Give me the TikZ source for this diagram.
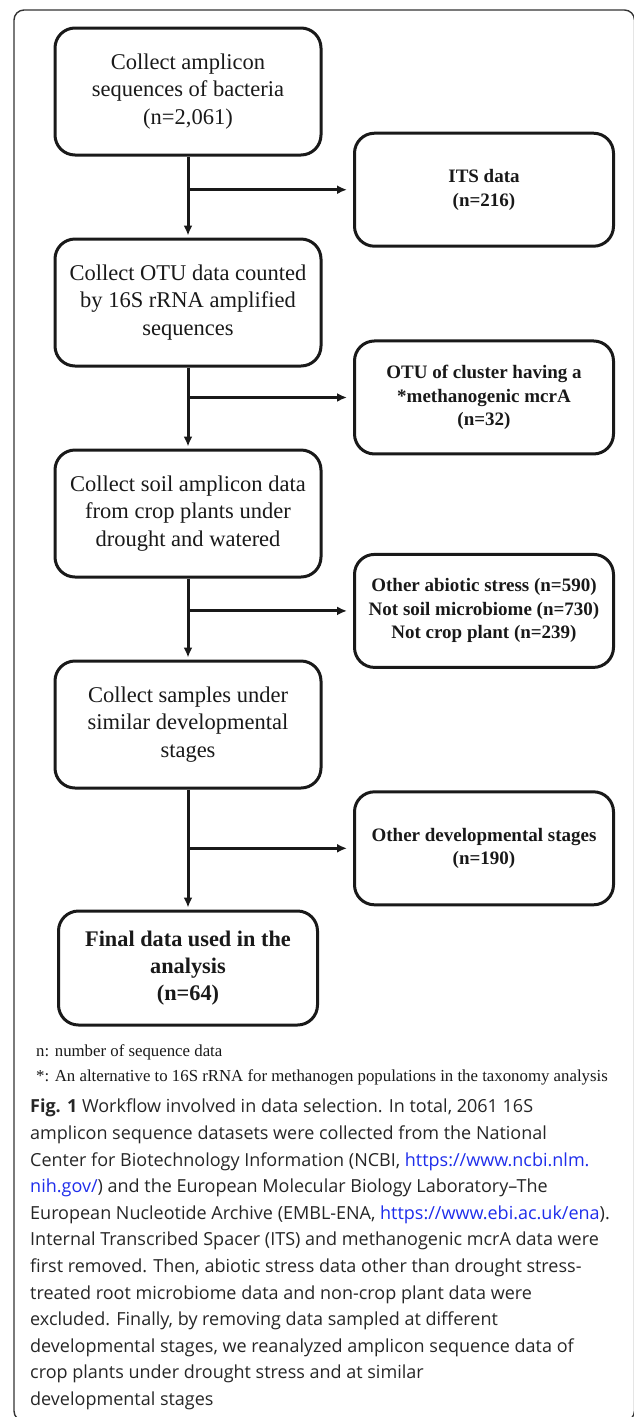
\documentclass[tikz,border=0pt]{standalone}
\usepackage{fontspec}
\setmainfont{Liberation Serif}
\newfontfamily\capfont{Open Sans}
\usepackage{xcolor}
\usetikzlibrary{positioning}
\usetikzlibrary{calc,arrows.meta}
\definecolor{linkblue}{RGB}{30,45,235}
\definecolor{ink}{RGB}{25,25,25}
\tikzset{
  keep/.style = {rectangle, rounded corners=20pt, draw=ink, line width=3pt,
   minimum width=266pt, minimum height=127pt, inner sep=0pt, align=center,
   text=ink, font=\fontsize{22.5}{27.5}\selectfont},
  drop/.style = {keep, minimum width=259pt, minimum height=113pt,
   font=\bfseries\fontsize{19}{23.5}\selectfont},
  last/.style = {keep, minimum width=259pt, minimum height=114pt,
   font=\bfseries\fontsize{22.3}{27}\selectfont},
  flow/.style = {-{Latex[length=10pt,width=9pt]}, draw=ink, line width=3pt},
  frame/.style = {draw=black!80, line width=1.4pt, rounded corners=10pt},
  note/.style = {inner sep=0pt, align=left, text=ink,
   font=\fontsize{16.8}{25}\selectfont},
  caption/.style = {inner sep=0pt, align=left, text=black!85,
   font=\capfont\fontsize{18}{26.6}\selectfont},
}

\begin{document}
\begin{tikzpicture}[x=1pt, y=-1pt, node distance = 81pt]
  \useasboundingbox (0,0) rectangle (633,1417);
  \draw[frame] (14,10) rectangle (634.5,1421);
  \node (collect) [keep] at (188,91.5) {Collect amplicon\\sequences of bacteria\\(n=2,061)};
  \node (otu) [keep, below = of collect] {Collect OTU data counted\\by 16S rRNA amplified\\sequences};
  \node (soil) [keep, below = of otu] {Collect soil amplicon data\\from crop plants under\\drought and watered};
  \node (stage) [keep, below = of soil] {Collect samples under\\similar developmental\\stages};
  \node (final) [last, below = 120pt of stage] {Final data used in the\\analysis\\(n=64)};
  \coordinate (j1) at ($(collect.south)!0.41!(otu.north)$);
  \coordinate (j2) at ($(otu.south)!0.37!(soil.north)$);
  \coordinate (j3) at ($(soil.south)!0.4!(stage.north)$);
  \coordinate (j4) at ($(stage.south)!0.49!(final.north)$);
  \node (its) [drop, right = 165pt of j1] {ITS data\\(n=216)};
  \node (mcra) [drop, right = 165pt of j2] {OTU of cluster having a\\*methanogenic mcrA\\(n=32)};
  \node (abiotic) [drop, right = 165pt of j3] {Other abiotic stress (n=590)\\Not soil microbiome (n=730)\\Not crop plant (n=239)};
  \node (devel) [drop, right = 165pt of j4] {Other developmental stages\\(n=190)};
  \path (collect) edge[flow, shorten >=2pt] (otu);
  \path (otu) edge[flow, shorten >=2pt] (soil);
  \path (soil) edge[flow, shorten >=2pt] (stage);
  \path (stage) edge[flow, shorten >=2pt] (final);
  \path (j1) edge[flow, shorten >=6pt] (its);
  \path (j2) edge[flow, shorten >=6pt] (mcra);
  \path (j3) edge[flow, shorten >=6pt] (abiotic);
  \path (j4) edge[flow, shorten >=6pt] (devel);
  \node (key) [note, anchor=north west] at (36,1044) {n: number of sequence data\\*: An alternative to 16S rRNA for methanogen populations in the taxonomy analysis};
  \node (cap) [caption, anchor=north west] at (30,1099) {{\bfseries Fig. 1} Workflow involved in data selection. In total, 2061 16S\\
amplicon sequence datasets were collected from the National\\
Center for Biotechnology Information (NCBI, \textcolor{linkblue}{https://www.ncbi.nlm.}\\
\textcolor{linkblue}{nih.gov/}) and the European Molecular Biology Laboratory–The\\
European Nucleotide Archive (EMBL-ENA, \textcolor{linkblue}{https://www.ebi.ac.uk/ena}).\\
Internal Transcribed Spacer (ITS) and methanogenic mcrA data were\\
first removed. Then, abiotic stress data other than drought stress-\\
treated root microbiome data and non-crop plant data were\\
excluded. Finally, by removing data sampled at different\\
developmental stages, we reanalyzed amplicon sequence data of\\
crop plants under drought stress and at similar\\
developmental stages};
\end{tikzpicture}
\end{document}
